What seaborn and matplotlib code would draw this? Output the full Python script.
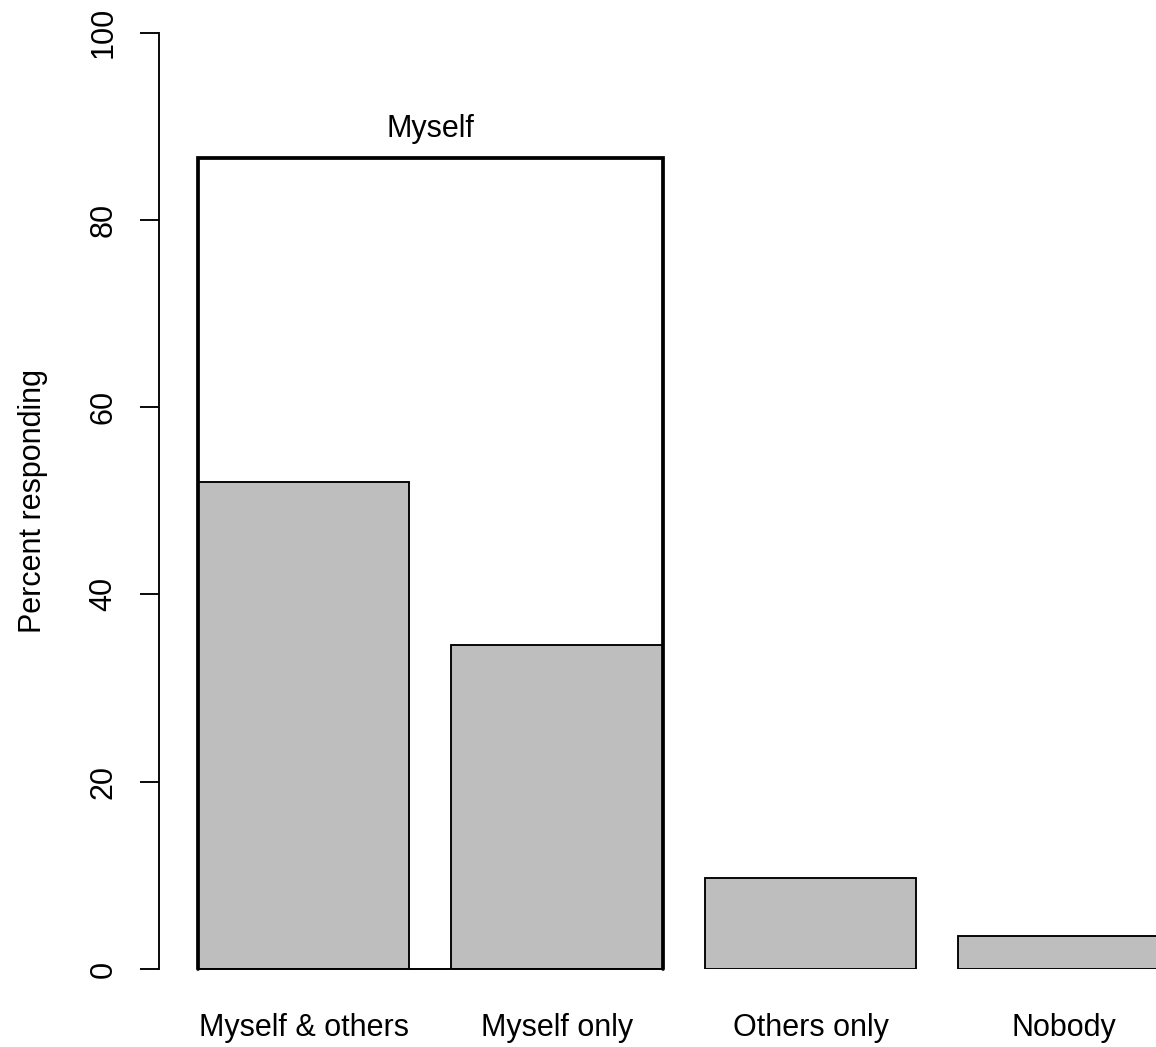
import matplotlib
matplotlib.use("Agg")
import matplotlib.pyplot as plt
import seaborn as sns
import pandas as pd

categories = ["Myself & others", "Myself only", "Others only", "Nobody"]
percent = [52.0, 34.6, 9.7, 3.5]
group_label = "Myself"

sns.set_style("white")
plt.rcParams["font.family"] = ["Liberation Sans", "DejaVu Sans"]
plt.rcParams["text.color"] = "black"
plt.rcParams["axes.labelcolor"] = "black"
plt.rcParams["xtick.color"] = "black"
plt.rcParams["ytick.color"] = "black"

df = pd.DataFrame({"who": categories, "pct": percent})

fig = plt.figure(figsize=(11.56, 10.47), dpi=100)
# axes placed so the plot sits like the R barplot (right side cropped)
ax = fig.add_axes([159 / 1156, 78 / 1047, 997 / 1156, 936.5 / 1047])

sns.barplot(data=df, x="who", y="pct", color="#BEBEBE", saturation=1,
            edgecolor="black", linewidth=1.35, width=1 / 1.2, ax=ax)

# outline around the two "Myself" bars
w = 0.5 / 1.2
top = percent[0] + percent[1]
ax.plot([-w, -w, 1 + w, 1 + w], [0, top, top, 0], color="black", lw=2.7,
        solid_joinstyle="miter", zorder=5, clip_on=False)
ax.plot([-w, 1 + w], [0, 0], color="black", lw=1.4, zorder=5, clip_on=False)
ax.text(0.5, 88.8, group_label, ha="center", va="baseline", fontsize=22,
        color="black")

ax.set_xlim(-0.5705, 3.363)
ax.set_ylim(0, 100)
ax.set_yticks([0, 20, 40, 60, 80, 100])
ax.tick_params(axis="y", length=13.7, width=1.35, pad=15.5, labelsize=22,
               labelrotation=90, left=True, color="black", labelcolor="black")
for lab in ax.get_yticklabels():
    lab.set_va("center")
ax.tick_params(axis="x", length=0, pad=32, labelsize=22, labelcolor="black")

sns.despine(ax=ax, bottom=True)
ax.spines["left"].set_bounds(0, 100)
ax.spines["left"].set_linewidth(1.35)
ax.spines["left"].set_color("black")

ax.set_xlabel("")
ax.set_ylabel("Percent responding", fontsize=22, color="black")
ax.yaxis.set_label_coords(-0.111, 0.5)

fig.savefig("out.png", dpi=100)
